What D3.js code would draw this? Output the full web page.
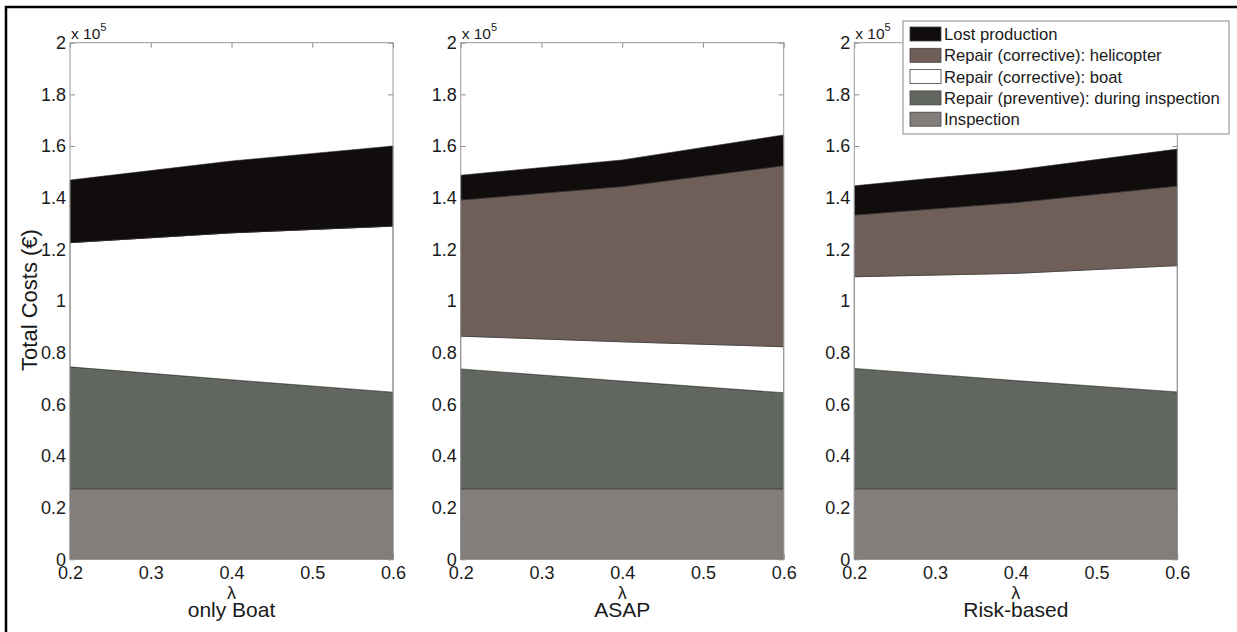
<!DOCTYPE html>
<html>
<head>
<meta charset="utf-8">
<script src="https://cdn.jsdelivr.net/npm/d3@7"></script>
<style>
  html, body { margin: 0; padding: 0; background: #fff; }
  svg { display: block; }
  text { font-family: "Liberation Sans", Arial, sans-serif; fill: #1a1a1a; }
</style>
</head>
<body>
<svg id="chart" width="1237" height="632"></svg>
<script>
// Failure rate values on the x axis
const lambda = [0.2, 0.4, 0.6];
const xTicks = [0.2, 0.3, 0.4, 0.5, 0.6];
const yTicks = [0, 20000, 40000, 60000, 80000, 100000, 120000, 140000, 160000, 180000, 200000];

// Maintenance strategies, one panel each
const strategies = ["only Boat", "ASAP", "Risk-based"];

// Cost components (€), one row per strategy, one value per lambda
const inspection = [[27300, 27300, 27300], [27300, 27300, 27300], [27300, 27300, 27300]];
const preventive = [[47200, 42200, 37400], [46400, 41700, 37200], [46600, 41900, 37500]];
const boat       = [[48100, 56900, 64300], [12700, 15200, 17800], [35500, 41500, 48900]];
const helicopter = [[0, 0, 0], [52700, 60100, 70100], [23900, 27400, 30800]];
const lostProd   = [[24200, 27800, 31000], [9600, 10300, 11900], [11300, 12600, 14300]];

// Stack order (bottom to top) and legend order (top to bottom)
const keys = ["inspection", "preventive", "boat", "helicopter", "lost"];
const legendKeys = ["lost", "helicopter", "boat", "preventive", "inspection"];
const labels = {
  lost: "Lost production",
  helicopter: "Repair (corrective): helicopter",
  boat: "Repair (corrective): boat",
  preventive: "Repair (preventive): during inspection",
  inspection: "Inspection"
};
const colors = {
  lost: "#110d0c",
  helicopter: "#6f5f58",
  boat: "#ffffff",
  preventive: "#61665e",
  inspection: "#837e7b"
};
const series = { inspection, preventive, boat, helicopter, lost: lostProd };

const svg = d3.select("#chart");

// Figure frame (left and top edges)
svg.append("line").attr("x1", 6).attr("x2", 6).attr("y1", 6).attr("y2", 632)
  .attr("stroke", "#000").attr("stroke-width", 2.5);
svg.append("line").attr("x1", 5).attr("x2", 1237).attr("y1", 7).attr("y2", 7)
  .attr("stroke", "#000").attr("stroke-width", 2.5);

const panelLefts = [70, 460.7, 854.3];
const panelW = 323;
const plotTop = 42.7, plotBottom = 559.3;

const y = d3.scaleLinear().domain([0, 200000]).range([plotBottom, plotTop]);
const yFmt = v => d3.format("~g")(+(v / 1e5).toFixed(1));

strategies.forEach((name, p) => {
  const left = panelLefts[p];
  const x = d3.scaleLinear().domain([0.2, 0.6]).range([left, left + panelW]);
  const g = svg.append("g");

  // Axes (ticks point inward, drawn beneath the areas)
  const ax = g.append("g").attr("class", "axes");
  const styleAxis = sel => {
    sel.select(".domain").remove();
    sel.selectAll(".tick line").attr("stroke", "#8e8e8e");
    sel.selectAll(".tick text").style("font-size", "18px").attr("fill", "#1a1a1a")
      .style("font-family", '"Liberation Sans", Arial, sans-serif');
  };
  ax.append("g").attr("transform", `translate(${left},0)`)
    .call(d3.axisLeft(y).tickValues(yTicks).tickFormat(yFmt).tickSizeInner(-5).tickSizeOuter(0).tickPadding(4))
    .call(styleAxis);
  ax.append("g").attr("transform", `translate(${left + panelW},0)`)
    .call(d3.axisRight(y).tickValues(yTicks).tickFormat("").tickSizeInner(-5).tickSizeOuter(0))
    .call(styleAxis);
  ax.append("g").attr("transform", `translate(0,${plotBottom})`)
    .call(d3.axisBottom(x).tickValues(xTicks).tickFormat(d3.format(".1f")).tickSizeInner(-5).tickSizeOuter(0).tickPadding(7))
    .call(styleAxis);
  ax.append("g").attr("transform", `translate(0,${plotTop})`)
    .call(d3.axisTop(x).tickValues(xTicks).tickFormat("").tickSizeInner(-5).tickSizeOuter(0))
    .call(styleAxis);

  // Stacked cost areas
  const rows = lambda.map((l, i) => {
    const r = { lambda: l };
    keys.forEach(k => { r[k] = series[k][p][i]; });
    return r;
  });
  const stacked = d3.stack().keys(keys)(rows);
  const area = d3.area()
    .x(d => x(d.data.lambda))
    .y0(d => y(d[0]))
    .y1(d => y(d[1]));
  g.append("g").selectAll("path").data(stacked).join("path")
    .attr("d", area)
    .attr("fill", d => colors[d.key])
    .attr("stroke", "#2b2b2b")
    .attr("stroke-width", 0.6);

  // Axes box
  g.append("rect").attr("x", left).attr("y", plotTop)
    .attr("width", panelW).attr("height", plotBottom - plotTop)
    .attr("fill", "none").attr("stroke", "#9a9a9a").attr("stroke-width", 1);

  // Exponent label
  const ex = g.append("text").attr("x", left + 1).attr("y", 39).style("font-size", "15.5px");
  ex.append("tspan").text("x 10");
  ex.append("tspan").attr("dy", -8).style("font-size", "11px").text("5");

  // x label and panel title
  g.append("text").attr("x", left + panelW / 2).attr("y", 599)
    .attr("text-anchor", "middle").style("font-size", "18px").text("λ");
  g.append("text").attr("x", left + panelW / 2).attr("y", 617)
    .attr("text-anchor", "middle").style("font-size", "21px").text(name);
});

// y axis title
svg.append("text")
  .attr("transform", "translate(37,300) rotate(-90)")
  .attr("text-anchor", "middle")
  .style("font-size", "22px")
  .text("Total Costs (€)");

// Legend
const lg = svg.append("g");
lg.append("rect").attr("x", 903).attr("y", 21).attr("width", 326).attr("height", 113)
  .attr("fill", "#fff").attr("stroke", "#8a8a8a").attr("stroke-width", 1);
legendKeys.forEach((k, i) => {
  const cy = 34 + i * 21.3;
  lg.append("rect").attr("x", 910).attr("y", cy - 7).attr("width", 31).attr("height", 14)
    .attr("fill", colors[k]).attr("stroke", "#444").attr("stroke-width", 0.8);
  lg.append("text").attr("x", 944).attr("y", cy + 6).style("font-size", "16.6px").text(labels[k]);
});
</script>
</body>
</html>
